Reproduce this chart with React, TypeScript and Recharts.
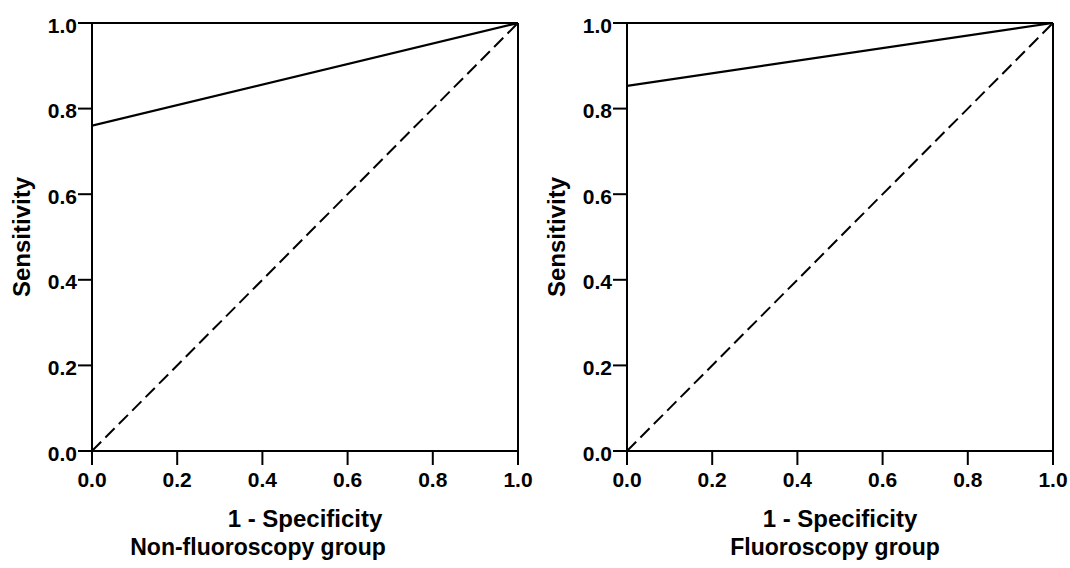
import { LineChart, Line, XAxis, YAxis, ReferenceLine, Label } from "recharts";

const fpr = [0, 1];
const nonFluoroSens = [0.76, 1];
const fluoroSens = [0.853, 1];
const chanceSens = [0, 1];
const ticks = [0, 0.2, 0.4, 0.6, 0.8, 1.0];
const groups = ["Non-fluoroscopy group", "Fluoroscopy group"];

const FONT = "'Liberation Sans', Arial, sans-serif";
const TICK_LEN = 14;

function toRows(ys: number[]) {
  return fpr.map((x, i) => ({ x, y: ys[i] }));
}

function XTick({ x, y, payload }: any) {
  return (
    <g>
      <line x1={x} x2={x} y1={y} y2={y + TICK_LEN} stroke="#000" strokeWidth={2} />
      <text x={x} y={y + TICK_LEN + 7} dy="0.72em" textAnchor="middle" fill="#000"
        fontSize={21} fontWeight={700} fontFamily={FONT}>
        {Number(payload.value).toFixed(1)}
      </text>
    </g>
  );
}

function YTick({ x, y, payload }: any) {
  return (
    <g>
      <line x1={x - TICK_LEN} x2={x} y1={y} y2={y} stroke="#000" strokeWidth={2} />
      <text x={x - TICK_LEN - 1} y={y + 2} dy="0.36em" textAnchor="end" fill="#000"
        fontSize={21} fontWeight={700} fontFamily={FONT}>
        {Number(payload.value).toFixed(1)}
      </text>
    </g>
  );
}

function RocPanel({ sens, title, titleCenter }: { sens: number[]; title: string; titleCenter: number }) {
  const titleStyle = { fill: "#000", fontSize: 24, fontWeight: 700, fontFamily: FONT };
  return (
    <div style={{ position: "relative", width: 535, height: 568 }}>
      <LineChart width={535} height={568} margin={{ top: 23, right: 17, bottom: 0, left: 0 }}>
        <XAxis dataKey="x" type="number" domain={[0, 1]} ticks={ticks} height={117}
          tick={<XTick />} tickLine={false} tickSize={0} tickMargin={0}
          stroke="#000" strokeWidth={2} allowDataOverflow>
          <Label value="1 - Specificity" position="insideTop" offset={59} style={titleStyle} />
        </XAxis>
        <YAxis type="number" domain={[0, 1]} ticks={ticks} width={92}
          tick={<YTick />} tickLine={false} tickSize={0} tickMargin={0}
          stroke="#000" strokeWidth={2} allowDataOverflow>
          <Label value="Sensitivity" angle={-90} position="insideLeft" offset={21}
            style={{ ...titleStyle, textAnchor: "middle" }} />
        </YAxis>
        <ReferenceLine y={1} stroke="#000" strokeWidth={2} />
        <ReferenceLine x={1} stroke="#000" strokeWidth={2} />
        <Line data={toRows(chanceSens)} dataKey="y" type="linear" stroke="#000" strokeWidth={2}
          strokeDasharray="13 6" dot={false} isAnimationActive={false} />
        <Line data={toRows(sens)} dataKey="y" type="linear" stroke="#000" strokeWidth={2.2}
          dot={false} isAnimationActive={false} />
      </LineChart>
      <div style={{
        position: "absolute", top: 536, left: titleCenter - 200, width: 400, textAlign: "center",
        fontFamily: FONT, fontSize: 23, fontWeight: 700, lineHeight: "23px", color: "#000",
      }}>
        {title}
      </div>
    </div>
  );
}

export default function App() {
  return (
    <div style={{ position: "absolute", left: 0, top: 0, width: 1070, height: 568, background: "#fff", display: "flex" }}>
      <RocPanel sens={nonFluoroSens} title={groups[0]} titleCenter={258} />
      <RocPanel sens={fluoroSens} title={groups[1]} titleCenter={300} />
    </div>
  );
}
